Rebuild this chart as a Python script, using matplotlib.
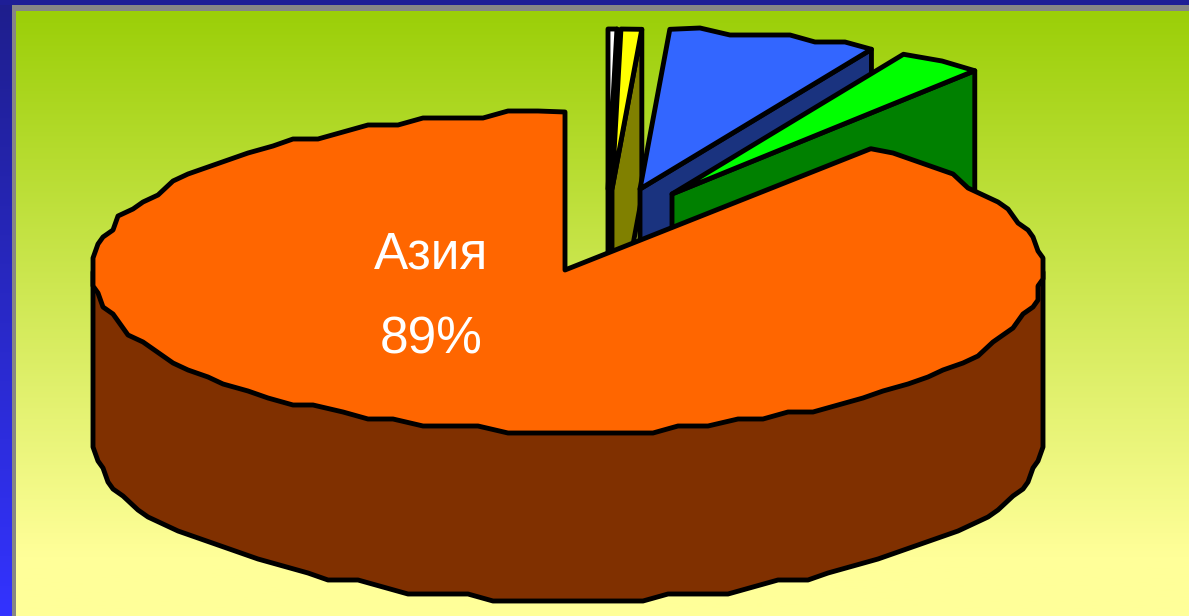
import matplotlib
matplotlib.use('Agg')
import matplotlib.pyplot as plt
import numpy as np
from matplotlib.patches import Polygon, Rectangle

plt.rcParams['font.family'] = ['Liberation Sans', 'DejaVu Sans']

# Data
shares = [89.0, 2.9, 7.1, 0.7, 0.3]  # percent, counter-clockwise from the Asia edge
top_colors = ['#FF6600', '#00FF00', '#3366FF', '#FFFF00', '#FFFFFF']
wall_colors = ['#803000', '#008000', '#1A337F', '#808000', '#808080']
center_label = ['Азия', '89%']

# Pie geometry in pixels
cx, cy = 568, 272
rx, ry = 475, 160
depth = 168
# apex shift of each pulled-out slice, same order as shares
shifts = [(-3, -2), (104, -78), (72, -83), (44, -83), (40, -83)]
lw = 3.5


def arc(x0, y0, a0, a1, xgrid=5, ygrid=7, step=3.5):
    # chunky ellipse outline, snapped to a coarse grid like an old metafile
    n = max(int(abs(a1 - a0) / step), 1)
    t = np.radians(np.linspace(a0, a1, n + 1))
    x = rx * np.cos(t)
    y = ry * np.sin(t)
    x[1:-1] = np.round(x[1:-1] / xgrid) * xgrid
    y[1:-1] = np.round(y[1:-1] / ygrid) * ygrid
    return np.column_stack([x0 + x, y0 - y])


def add_poly(ax, pts, color, z):
    ax.add_patch(Polygon(pts, closed=True, facecolor=color, edgecolor='black',
                         linewidth=lw, joinstyle='round', zorder=z))


fig = plt.figure(figsize=(11.89, 6.16), dpi=100)
ax = fig.add_axes([0, 0, 1, 1])

# Slide background: green to pale yellow panel, blue frame, grey inner edge
c_top = np.array([155, 207, 8]) / 255
c_bot = np.array([255, 255, 153]) / 255
u = np.clip(np.linspace(0, 605, 300) / 545, 0, 1)[:, None, None]
ax.imshow(c_top * (1 - u) + c_bot * u, extent=[15, 1189, 616, 11], aspect='auto', zorder=0)
frame = np.linspace(0, 1, 300)[:, None, None]
ax.imshow(np.array([30, 30, 140]) / 255 * (1 - frame) + np.array([51, 51, 255]) / 255 * frame,
          extent=[0, 12, 616, 0], aspect='auto', zorder=0)
ax.add_patch(Rectangle((0, 0), 1189, 5, facecolor='#1E1E96', edgecolor='none', zorder=0.5))
ax.add_patch(Rectangle((12, 5), 1177, 6, facecolor='#868686', edgecolor='none', zorder=0.5))
ax.add_patch(Rectangle((12, 5), 4, 611, facecolor='#868686', edgecolor='none', zorder=0.5))
ax.set_xlim(0, 1189)
ax.set_ylim(616, 0)
ax.axis('off')

# Slice angles from the shares, Asia ends at twelve o'clock
start = 90 - (100 - shares[0]) * 3.6
a1 = start
edges = []
for s in shares[1:]:
    edges.append((a1, a1 + s * 3.6))
    a1 += s * 3.6

# Pulled-out slices, drawn back to front
z = 2
for i in [4, 3, 2, 1]:
    a_lo, a_hi = edges[i - 1]
    ax0, ay0 = cx + shifts[i][0], cy + shifts[i][1]
    outline = arc(ax0, ay0, a_lo, a_hi)
    end = outline[0]
    wall = [(ax0, ay0), tuple(end), (end[0], end[1] + depth), (ax0, ay0 + depth)]
    add_poly(ax, wall, wall_colors[i], z)
    add_poly(ax, np.vstack([[ax0, ay0], outline]), top_colors[i], z + 1)
    z += 2

# Asia slice: side wall first, then the top face over everything behind it
front = arc(cx, cy, 180, 360)
side = np.vstack([front[0], front + [0, depth], front[-1]])
add_poly(ax, side, wall_colors[0], 20)
big = arc(cx, cy, 90, start + 360)
big[0, 0] = cx + shifts[0][0]
add_poly(ax, np.vstack([[cx + shifts[0][0], cy + shifts[0][1]], big]), top_colors[0], 21)

ax.text(431, 255, center_label[0], color='white', fontsize=37, ha='center', va='center', zorder=30)
ax.text(431, 340, center_label[1], color='white', fontsize=37, ha='center', va='center', zorder=30)

fig.savefig('out.png', dpi=100)
